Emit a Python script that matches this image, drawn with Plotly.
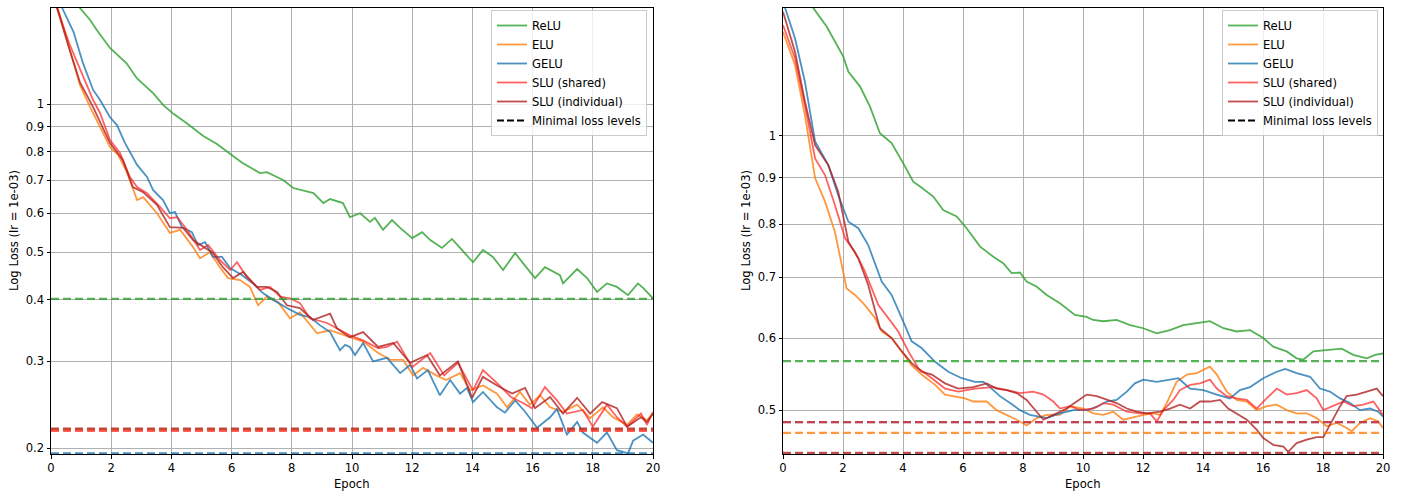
import plotly.graph_objects as go
import math

# ---------------- data ----------------
series_names = ["ReLU", "ELU", "GELU", "SLU (shared)", "SLU (individual)"]

# Left panel
L_relu_x = [0, 0.5, 0.96, 1.3, 1.52, 1.96, 2.51, 2.85, 3.4, 3.73, 4.07, 4.51, 5.07, 5.5, 5.95, 6.35, 6.94, 7.17, 7.71, 8.05, 8.72, 9.05, 9.27, 9.7, 9.93, 10.27, 10.6, 10.76, 11.03, 11.33, 11.6, 12.0, 12.33, 12.6, 12.99, 13.32, 13.59, 14.02, 14.35, 14.68, 15.02, 15.42, 15.68, 16.08, 16.41, 16.91, 17.01, 17.48, 17.81, 18.14, 18.47, 18.8, 19.17, 19.5, 19.67, 20.0]
L_relu_y = [2.05, 1.78, 1.567, 1.482, 1.413, 1.3, 1.21, 1.128, 1.051, 0.995, 0.955, 0.914, 0.86, 0.83, 0.793, 0.76, 0.724, 0.727, 0.701, 0.675, 0.659, 0.629, 0.641, 0.629, 0.589, 0.6, 0.576, 0.587, 0.555, 0.581, 0.56, 0.534, 0.549, 0.529, 0.51, 0.532, 0.51, 0.477, 0.505, 0.489, 0.46, 0.498, 0.475, 0.443, 0.466, 0.449, 0.432, 0.462, 0.443, 0.415, 0.432, 0.425, 0.409, 0.432, 0.423, 0.403]

L_elu_x = [0, 0.23, 0.6, 0.96, 1.3, 1.73, 1.96, 2.23, 2.52, 2.86, 3.06, 3.52, 3.95, 4.29, 4.72, 4.95, 5.28, 5.61, 5.88, 6.28, 6.61, 6.88, 7.17, 7.54, 7.94, 8.27, 8.84, 9.27, 9.7, 9.93, 10.37, 10.87, 11.3, 11.7, 12.03, 12.36, 12.8, 13.12, 13.59, 13.92, 14.35, 14.82, 15.15, 15.58, 15.91, 16.25, 16.58, 17.01, 17.48, 17.91, 18.34, 18.67, 19.14, 19.47, 19.8, 20.0]
L_elu_y = [1.75, 1.567, 1.3, 1.093, 0.986, 0.873, 0.818, 0.788, 0.727, 0.638, 0.647, 0.6, 0.547, 0.555, 0.512, 0.486, 0.5, 0.466, 0.443, 0.439, 0.425, 0.39, 0.406, 0.396, 0.367, 0.377, 0.342, 0.347, 0.339, 0.336, 0.329, 0.312, 0.302, 0.302, 0.281, 0.291, 0.281, 0.275, 0.284, 0.262, 0.268, 0.258, 0.242, 0.26, 0.245, 0.256, 0.242, 0.237, 0.245, 0.23, 0.242, 0.231, 0.223, 0.234, 0.228, 0.235]

L_gelu_x = [0, 0.37, 0.75, 1.06, 1.4, 1.63, 1.96, 2.19, 2.46, 2.86, 3.19, 3.39, 3.72, 3.95, 4.12, 4.35, 4.68, 4.88, 5.12, 5.38, 5.68, 5.95, 6.35, 6.71, 7.04, 7.38, 7.84, 8.27, 8.6, 8.94, 9.27, 9.6, 9.77, 9.93, 10.1, 10.37, 10.7, 11.16, 11.6, 11.93, 12.16, 12.52, 12.92, 13.26, 13.59, 13.82, 14.02, 14.35, 14.82, 15.08, 15.42, 15.75, 16.15, 16.58, 16.81, 17.14, 17.48, 17.67, 18.14, 18.47, 18.8, 19.17, 19.34, 19.67, 20.0]
L_gelu_y = [1.8, 1.567, 1.4, 1.212, 1.068, 1.019, 0.94, 0.906, 0.833, 0.752, 0.711, 0.669, 0.638, 0.6, 0.603, 0.562, 0.549, 0.517, 0.524, 0.489, 0.489, 0.464, 0.449, 0.432, 0.413, 0.4, 0.385, 0.373, 0.369, 0.355, 0.344, 0.316, 0.324, 0.321, 0.309, 0.327, 0.3, 0.305, 0.284, 0.295, 0.277, 0.288, 0.256, 0.275, 0.258, 0.265, 0.248, 0.26, 0.242, 0.236, 0.25, 0.237, 0.22, 0.231, 0.24, 0.213, 0.226, 0.215, 0.205, 0.215, 0.198, 0.195, 0.207, 0.213, 0.205]

L_slus_x = [0, 0.2, 0.6, 1.06, 1.4, 1.63, 1.96, 2.29, 2.62, 2.86, 3.19, 3.62, 3.95, 4.19, 4.52, 4.95, 5.22, 5.61, 5.95, 6.18, 6.51, 6.94, 7.28, 7.61, 7.94, 8.27, 8.6, 9.17, 9.6, 9.93, 10.37, 10.87, 11.16, 11.5, 12.0, 12.6, 13.06, 13.52, 14.02, 14.35, 14.82, 15.28, 15.68, 15.98, 16.41, 16.81, 17.14, 17.67, 18.0, 18.47, 18.8, 19.14, 19.6, 19.8, 20.0]
L_slus_y = [1.75, 1.567, 1.33, 1.145, 1.019, 0.959, 0.845, 0.795, 0.711, 0.678, 0.659, 0.618, 0.586, 0.589, 0.555, 0.505, 0.517, 0.482, 0.46, 0.477, 0.445, 0.419, 0.425, 0.406, 0.403, 0.394, 0.367, 0.359, 0.347, 0.339, 0.331, 0.319, 0.321, 0.329, 0.292, 0.312, 0.281, 0.298, 0.262, 0.288, 0.271, 0.254, 0.247, 0.241, 0.266, 0.25, 0.235, 0.239, 0.221, 0.245, 0.231, 0.221, 0.235, 0.223, 0.237]

L_slui_x = [0, 0.2, 0.6, 0.96, 1.4, 1.96, 2.39, 2.72, 3.06, 3.52, 3.95, 4.39, 4.72, 5.12, 5.38, 5.71, 6.05, 6.38, 6.84, 7.17, 7.51, 7.84, 8.27, 8.7, 9.27, 9.5, 9.93, 10.37, 10.87, 11.37, 11.93, 12.49, 12.92, 13.52, 13.99, 14.35, 14.82, 15.32, 15.75, 16.08, 16.58, 17.01, 17.48, 17.91, 18.31, 18.8, 19.14, 19.6, 19.8, 20.0]
L_slui_y = [1.75, 1.567, 1.3, 1.108, 0.986, 0.833, 0.769, 0.678, 0.662, 0.624, 0.562, 0.56, 0.529, 0.51, 0.498, 0.466, 0.443, 0.456, 0.425, 0.425, 0.415, 0.39, 0.385, 0.364, 0.375, 0.35, 0.336, 0.344, 0.321, 0.327, 0.298, 0.309, 0.281, 0.3, 0.253, 0.279, 0.268, 0.258, 0.265, 0.241, 0.254, 0.235, 0.253, 0.235, 0.248, 0.241, 0.221, 0.231, 0.226, 0.235]

L_min_levels = [0.402, 0.218, 0.195, 0.2168, 0.219]

# Right panel
R_relu_x = [0, 0.5, 1.01, 1.46, 2.01, 2.18, 2.57, 2.9, 3.23, 3.62, 4.01, 4.34, 4.57, 5.01, 5.34, 5.79, 6.12, 6.57, 7.01, 7.34, 7.62, 7.9, 8.12, 8.46, 8.79, 9.23, 9.73, 10.12, 10.34, 10.68, 11.12, 11.57, 12.01, 12.46, 12.9, 13.34, 13.79, 14.23, 14.68, 15.12, 15.57, 16.01, 16.34, 16.79, 17.12, 17.34, 17.68, 18.12, 18.62, 19.01, 19.46, 19.74, 20.0]
R_relu_y = [1.7, 1.52, 1.382, 1.318, 1.222, 1.176, 1.133, 1.077, 1.007, 0.982, 0.933, 0.891, 0.88, 0.858, 0.829, 0.816, 0.792, 0.756, 0.737, 0.725, 0.707, 0.708, 0.692, 0.683, 0.669, 0.655, 0.636, 0.633, 0.628, 0.626, 0.628, 0.62, 0.615, 0.607, 0.612, 0.62, 0.623, 0.626, 0.615, 0.61, 0.612, 0.6, 0.587, 0.58, 0.57, 0.568, 0.58, 0.582, 0.584, 0.575, 0.57, 0.575, 0.577]

R_elu_x = [0, 0.4, 0.73, 1.07, 1.4, 1.73, 2.12, 2.4, 2.73, 3.07, 3.29, 3.62, 3.96, 4.29, 4.62, 5.07, 5.4, 5.73, 6.07, 6.34, 6.79, 7.12, 7.46, 7.79, 8.12, 8.46, 8.79, 9.23, 9.57, 10.01, 10.34, 10.68, 11.01, 11.34, 11.57, 12.01, 12.34, 12.57, 12.79, 13.12, 13.46, 13.79, 14.23, 14.46, 14.79, 15.12, 15.46, 15.79, 16.12, 16.46, 16.79, 17.12, 17.46, 17.79, 18.12, 18.46, 18.79, 18.96, 19.23, 19.57, 19.84, 20.0]
R_elu_y = [1.301, 1.197, 1.054, 0.899, 0.847, 0.785, 0.68, 0.669, 0.652, 0.631, 0.61, 0.6, 0.58, 0.56, 0.547, 0.533, 0.52, 0.518, 0.515, 0.511, 0.511, 0.5, 0.494, 0.488, 0.481, 0.49, 0.494, 0.494, 0.505, 0.502, 0.496, 0.494, 0.498, 0.488, 0.49, 0.494, 0.496, 0.494, 0.509, 0.537, 0.547, 0.549, 0.558, 0.547, 0.524, 0.513, 0.511, 0.5, 0.505, 0.507, 0.5, 0.496, 0.496, 0.49, 0.48, 0.484, 0.478, 0.474, 0.484, 0.49, 0.486, 0.478]

R_gelu_x = [0, 0.07, 0.4, 0.73, 1.07, 1.51, 1.84, 2.18, 2.51, 2.84, 3.29, 3.62, 3.96, 4.29, 4.62, 5.07, 5.51, 5.96, 6.4, 6.68, 6.9, 7.23, 7.57, 7.9, 8.23, 8.46, 8.79, 9.23, 9.68, 10.12, 10.46, 10.79, 11.12, 11.46, 11.73, 12.01, 12.46, 12.9, 13.18, 13.57, 14.01, 14.46, 14.9, 15.23, 15.57, 16.01, 16.46, 16.74, 17.12, 17.57, 17.9, 18.23, 18.57, 18.9, 19.23, 19.57, 19.84, 20.0]
R_gelu_y = [1.42, 1.382, 1.28, 1.147, 0.986, 0.929, 0.861, 0.805, 0.792, 0.759, 0.692, 0.669, 0.631, 0.595, 0.585, 0.565, 0.551, 0.542, 0.537, 0.537, 0.53, 0.518, 0.509, 0.5, 0.494, 0.492, 0.49, 0.496, 0.5, 0.5, 0.504, 0.511, 0.513, 0.524, 0.535, 0.54, 0.537, 0.54, 0.542, 0.528, 0.526, 0.52, 0.515, 0.526, 0.53, 0.542, 0.551, 0.555, 0.549, 0.544, 0.528, 0.524, 0.515, 0.509, 0.5, 0.502, 0.498, 0.492]

R_slus_x = [0, 0.4, 0.73, 1.07, 1.4, 1.73, 2.07, 2.4, 2.73, 3.18, 3.51, 3.84, 4.18, 4.51, 4.96, 5.4, 5.84, 6.4, 7.01, 7.46, 7.9, 8.34, 8.68, 9.01, 9.23, 9.57, 9.9, 10.34, 10.68, 11.01, 11.46, 11.9, 12.23, 12.46, 12.68, 13.01, 13.23, 13.57, 13.9, 14.23, 14.46, 14.79, 15.12, 15.46, 15.79, 16.12, 16.46, 16.79, 17.12, 17.46, 17.79, 18.01, 18.34, 18.68, 19.01, 19.34, 19.68, 20.0]
R_slus_y = [1.324, 1.217, 1.081, 0.945, 0.906, 0.84, 0.772, 0.746, 0.71, 0.652, 0.631, 0.61, 0.58, 0.556, 0.542, 0.528, 0.524, 0.528, 0.53, 0.526, 0.522, 0.524, 0.52, 0.511, 0.502, 0.505, 0.5, 0.502, 0.509, 0.507, 0.498, 0.496, 0.496, 0.486, 0.5, 0.513, 0.526, 0.533, 0.535, 0.54, 0.528, 0.518, 0.515, 0.513, 0.502, 0.515, 0.528, 0.52, 0.522, 0.526, 0.515, 0.5, 0.505, 0.511, 0.505, 0.507, 0.511, 0.494]

R_slui_x = [0, 0.4, 0.73, 1.07, 1.51, 1.84, 2.18, 2.51, 2.84, 3.23, 3.62, 3.96, 4.29, 4.62, 4.96, 5.4, 5.84, 6.34, 6.79, 7.12, 7.46, 7.79, 8.12, 8.46, 8.68, 9.01, 9.46, 9.79, 10.12, 10.46, 10.79, 11.12, 11.46, 11.79, 12.12, 12.57, 12.9, 13.23, 13.57, 13.9, 14.23, 14.57, 14.84, 15.12, 15.46, 15.79, 16.01, 16.34, 16.68, 16.84, 17.12, 17.46, 17.79, 18.01, 18.23, 18.57, 18.79, 19.12, 19.46, 19.79, 20.0]
R_slui_y = [1.369, 1.237, 1.091, 0.977, 0.929, 0.869, 0.765, 0.734, 0.686, 0.615, 0.6, 0.58, 0.563, 0.551, 0.547, 0.535, 0.528, 0.53, 0.535, 0.528, 0.526, 0.522, 0.513, 0.498, 0.488, 0.494, 0.502, 0.511, 0.52, 0.518, 0.513, 0.509, 0.502, 0.498, 0.496, 0.498, 0.502, 0.507, 0.502, 0.511, 0.511, 0.513, 0.502, 0.496, 0.488, 0.476, 0.466, 0.458, 0.456, 0.45, 0.46, 0.464, 0.467, 0.467, 0.482, 0.505, 0.518, 0.52, 0.524, 0.528, 0.518]

R_min_levels = [0.566, 0.472, 0.485, 0.485, 0.4487]

x_ticks = [0, 2, 4, 6, 8, 10, 12, 14, 16, 18, 20]
L_y_ticks = [0.2, 0.3, 0.4, 0.5, 0.6, 0.7, 0.8, 0.9, 1]
L_y_ticktext = ["0.2", "0.3", "0.4", "0.5", "0.6", "0.7", "0.8", "0.9", "1"]
R_y_ticks = [0.5, 0.6, 0.7, 0.8, 0.9, 1]
R_y_ticktext = ["0.5", "0.6", "0.7", "0.8", "0.9", "1"]
L_y_range = [0.1945, 1.567]
R_y_range = [0.4475, 1.382]
y_title = "Log Loss (lr = 1e-03)"
x_title = "Epoch"
min_label = "Minimal loss levels"

# ---------------- styling ----------------
colors = ["#2ca02c", "#ff7f0e", "#1f77b4", "#ff2020", "#b22222"]
opac = [0.8, 0.8, 0.8, 0.7, 0.8]
FONT = "DejaVu Sans"
FS = 11.6
W, H = 1402, 494
ML, MR, MT, MB = 0, 0, 8, 40
PH = H - MT - MB

def px(x):
    return x / W

def py(y):
    return (H - MB - y) / PH

fig = go.Figure()

panels = [
    ("x", "y", "legend", [(L_relu_x, L_relu_y), (L_elu_x, L_elu_y), (L_gelu_x, L_gelu_y), (L_slus_x, L_slus_y), (L_slui_x, L_slui_y)], L_min_levels),
    ("x2", "y2", "legend2", [(R_relu_x, R_relu_y), (R_elu_x, R_elu_y), (R_gelu_x, R_gelu_y), (R_slus_x, R_slus_y), (R_slui_x, R_slui_y)], R_min_levels),
]

for xa, ya, leg, curves, mins in panels:
    for i, (cx, cy) in enumerate(curves):
        fig.add_trace(go.Scatter(
            x=cx, y=cy, mode="lines", name=series_names[i],
            line=dict(color=colors[i], width=1.8), opacity=opac[i],
            xaxis=xa, yaxis=ya, legend=leg, showlegend=True, hoverinfo="skip"))
    for i, m in enumerate(mins):
        fig.add_trace(go.Scatter(
            x=[x_ticks[0], x_ticks[-1]], y=[m, m], mode="lines",
            line=dict(color=colors[i], width=2.2, dash="8px,4px"), opacity=opac[i],
            xaxis=xa, yaxis=ya, showlegend=False, hoverinfo="skip"))
    fig.add_trace(go.Scatter(
        x=[None], y=[None], mode="lines", name=min_label,
        line=dict(color="black", width=2.2, dash="7px,3px"),
        xaxis=xa, yaxis=ya, legend=leg, showlegend=True))

common_x = dict(range=[0, 20], tickvals=x_ticks, ticks="outside", ticklen=3.5,
                tickwidth=0.8, tickcolor="black", showgrid=True, gridcolor="#b0b0b0",
                gridwidth=0.8, showline=True, linecolor="black", linewidth=1,
                mirror=True, zeroline=False, automargin=False,
                tickfont=dict(family=FONT, size=FS, color="black"))
common_y = dict(type="log", ticks="outside", ticklen=3.5, tickwidth=0.8,
                tickcolor="black", showgrid=True, gridcolor="#b0b0b0", gridwidth=0.8,
                showline=True, linecolor="black", linewidth=1, mirror=True,
                zeroline=False, automargin=False,
                tickfont=dict(family=FONT, size=FS, color="black"))

legend_style = dict(xanchor="right", yanchor="top",
                    bgcolor="rgba(255,255,255,0.8)", bordercolor="#cccccc", borderwidth=1,
                    font=dict(family=FONT, size=FS, color="black"), tracegroupgap=0,
                    itemwidth=30)

fig.update_layout(
    width=W, height=H, template="none",
    margin=dict(l=ML, r=MR, t=MT, b=MB, pad=0),
    paper_bgcolor="white", plot_bgcolor="white",
    font=dict(family=FONT, size=FS, color="black"),
    xaxis=dict(domain=[px(51), px(653)], anchor="y", **common_x),
    yaxis=dict(domain=[0, 1], anchor="x",
               range=[math.log10(L_y_range[0]), math.log10(L_y_range[1])],
               tickvals=L_y_ticks, ticktext=L_y_ticktext, **common_y),
    xaxis2=dict(domain=[px(783), px(1383)], anchor="y2", **common_x),
    yaxis2=dict(domain=[0, 1], anchor="x2",
                range=[math.log10(R_y_range[0]), math.log10(R_y_range[1])],
                tickvals=R_y_ticks, ticktext=R_y_ticktext, **common_y),
    legend=dict(x=px(647), y=py(10), **legend_style),
    legend2=dict(x=px(1378), y=py(10), **legend_style),
    showlegend=True,
)

annots = [
    (px(14), py(231), y_title, -90),
    (px(746), py(231), y_title, -90),
    (px(352), py(484), x_title, 0),
    (px(1083), py(484), x_title, 0),
]
for ax, ay, txt, ang in annots:
    fig.add_annotation(x=ax, y=ay, xref="paper", yref="paper", text=txt,
                       textangle=ang, showarrow=False, xanchor="center", yanchor="middle",
                       font=dict(family=FONT, size=FS, color="black"))

fig.write_html("out.html")
